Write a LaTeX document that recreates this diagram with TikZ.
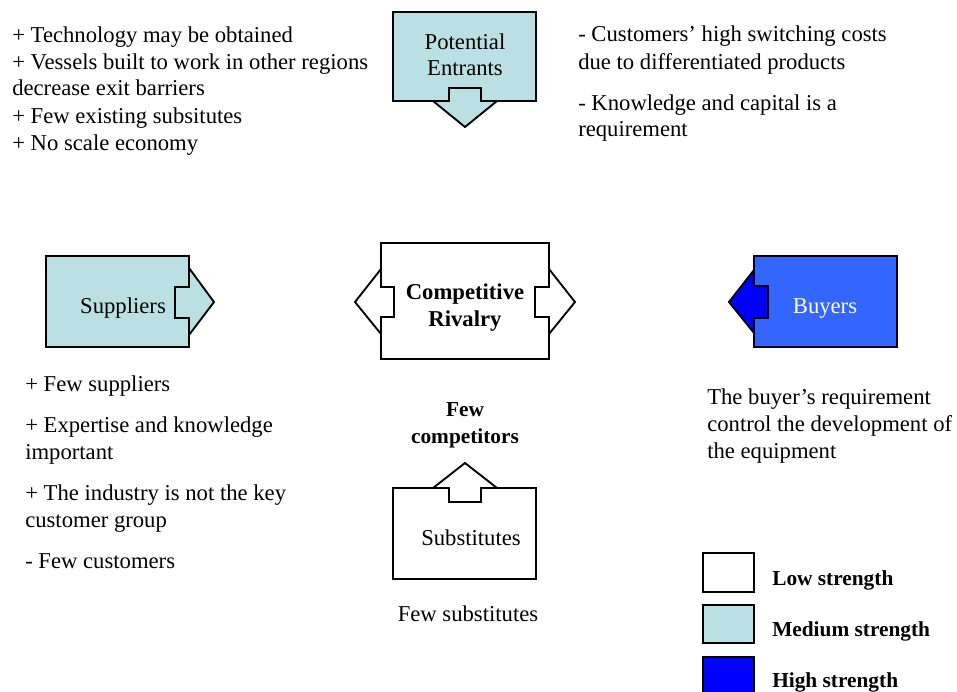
\documentclass[tikz,border=0pt]{standalone}
\usepackage{fontspec}
\setmainfont{Liberation Serif}
\definecolor{medfill}{HTML}{BBE0E3}
\definecolor{buyfill}{HTML}{3366FF}
\definecolor{highfill}{HTML}{0000FF}
\begin{document}
\begin{tikzpicture}[x=0.75pt,y=-0.75pt,
  txt/.style={inner sep=0pt,font=\fontsize{17}{20.25}\selectfont},
  bold/.style={txt,font=\fontsize{17}{20.25}\selectfont\bfseries},
  boldsm/.style={txt,font=\fontsize{16}{20.25}\selectfont\bfseries},
  shapeline/.style={draw=black,line width=1.4pt,line join=miter},
  thinline/.style={draw=black,line width=1.4pt}]
\useasboundingbox (0,0) rectangle (957,692);
\clip (0,0) rectangle (957,692);

% Potential Entrants (down arrow callout)
\path[shapeline,fill=medfill] (393,12)--(536,12)--(536,101)--(497,101)--(465,127)--(433,101)--(393,101)--cycle;
\draw[thinline] (433,101)--(449,101)--(449,88)--(481,88)--(481,101)--(497,101);
\node[txt,anchor=base,align=center] (pe) at (465,76) {Potential\\Entrants};

% Suppliers (right arrow callout)
\path[shapeline,fill=medfill] (46,256)--(189,256)--(189,268)--(214,302)--(189,335)--(189,347)--(46,347)--cycle;
\draw[thinline] (189,268)--(189,287)--(175,287)--(175,318)--(189,318)--(189,335);
\node[txt,anchor=base] (sup) at (123,313) {Suppliers};

% Competitive Rivalry (left-right arrow callout)
\path[shapeline,fill=white] (381,243)--(549,243)--(549,269)--(575,302)--(549,334)--(549,359)--(381,359)--(381,334)--(355,302)--(381,269)--cycle;
\draw[thinline] (381,269)--(381,287)--(394,287)--(394,317)--(381,317)--(381,334);
\draw[thinline] (549,269)--(549,287)--(535,287)--(535,317)--(549,317)--(549,334);
\node[bold,anchor=base,align=center] (cr) at (465,326) {Competitive\\Rivalry};

% Buyers (left arrow callout)
\path[fill=buyfill] (754,256) rectangle (897,347);
\path[fill=highfill] (754,270)--(729,302)--(754,333)--(754,318)--(768,318)--(768,286)--(754,286)--cycle;
\path[shapeline] (754,256)--(897,256)--(897,347)--(754,347)--(754,333)--(729,302)--(754,270)--cycle;
\draw[thinline] (754,270)--(754,286)--(768,286)--(768,318)--(754,318)--(754,333);
\node[txt,anchor=base,text=white] (buy) at (825,313) {Buyers};

% Substitutes (up arrow callout)
\path[shapeline,fill=white] (393,488)--(433,488)--(465,463)--(497,488)--(536,488)--(536,579)--(393,579)--cycle;
\draw[thinline] (433,488)--(449,488)--(449,502)--(481,502)--(481,488)--(497,488);
\node[txt,anchor=base] (subs) at (471,545) {Substitutes};

% Texts
\node[txt,anchor=base west,align=left] (pet) at (12,150) {+ Technology may be obtained\\+ Vessels built to work in other regions\\decrease exit barriers\\+ Few existing subsitutes\\+ No scale economy};
\node[txt,anchor=base west,align=left] (pem) at (578,137) {- Customers’ high switching costs\\due to differentiated products\\[10.5pt]- Knowledge and capital is a\\requirement};
\node[txt,anchor=base west,align=left] (supt) at (25,568) {+ Few suppliers\\[10.5pt]+ Expertise and knowledge\\important\\[10.5pt]+ The industry is not the key\\customer group\\[10.5pt]- Few customers};
\node[boldsm,anchor=base,align=center] (fc) at (465,443) {Few\\competitors};
\node[txt,anchor=base west,align=left] (buyt) at (707,458) {The buyer’s requirement\\control the development of\\the equipment};
\node[txt,anchor=base] (fs) at (468,621) {Few substitutes};

% Legend
\path[shapeline,fill=white] (703,553) rectangle (754,592);
\path[shapeline,fill=medfill] (703,605) rectangle (754,643);
\path[shapeline,fill=highfill] (703,657) rectangle (754,705);
\node[boldsm,anchor=base west] (lo) at (772,585) {Low strength};
\node[boldsm,anchor=base west] (me) at (772,636) {Medium strength};
\node[boldsm,anchor=base west] (hi) at (772,687) {High strength};
\end{tikzpicture}
\end{document}
